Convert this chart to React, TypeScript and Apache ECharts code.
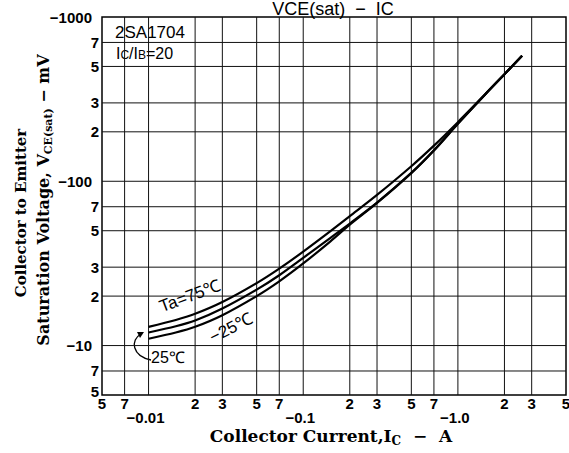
import React, { useEffect, useRef } from "react";
import * as echarts from "echarts";

// ---- axis ticks / labels ----
const xTickValues = [0.005, 0.007, 0.01, 0.02, 0.03, 0.05, 0.07, 0.1, 0.2, 0.3, 0.5, 0.7, 1, 2, 3, 5];
const xTickLabels = ["5", "7", "−0.01", "2", "3", "5", "7", "−0.1", "2", "3", "5", "7", "−1.0", "2", "3", "5"];
const yTickValues = [5, 7, 10, 20, 30, 50, 70, 100, 200, 300, 500, 700, 1000];
const yTickLabels = ["5", "7", "−10", "2", "3", "5", "7", "−100", "2", "3", "5", "7", "−1000"];

// ---- series (|IC| in A, |VCE(sat)| in mV) ----
const currentA = [0.01, 0.015, 0.02, 0.03, 0.05, 0.07, 0.1, 0.15, 0.2, 0.3, 0.5, 0.7, 1.0, 1.5, 2.0, 2.6];
const vce75 = [13.0, 14.3, 15.6, 18.4, 24.0, 29.4, 37.3, 49.7, 61.3, 82.6, 123.5, 164.8, 229, 338, 448, 581];
const vce25 = [12.0, 13.1, 14.2, 16.8, 21.9, 26.8, 34.2, 45.3, 55.3, 74.1, 112.6, 154.5, 224.8, 338, 448, 581];
const vceM25 = [11.0, 12.0, 13.0, 15.3, 20.0, 24.6, 31.6, 43.1, 54.4, 73.8, 112.1, 153.8, 223.7, 338, 448, 581];

const X_MIN = 0.005;
const X_MAX = 5;
const Y_MIN = 5;
const Y_MAX = 1000;

const SANS = "Liberation Sans, Arial, sans-serif";
const SERIF = "DejaVu Serif, serif";

export default function App() {
  const ref = useRef<HTMLDivElement>(null);

  useEffect(() => {
    if (!ref.current) return;
    const chart = echarts.init(ref.current, null, { renderer: "svg" });

    const mk = (x: number[], y: number[]) => x.map((v, i) => [v, y[i]]);

    const lineSeries = (name: string, ys: number[]) => ({
      type: "line",
      name,
      data: mk(currentA, ys),
      smooth: 0.3,
      showSymbol: false,
      symbol: "none",
      lineStyle: { color: "#000", width: 2.2 },
      z: 5,
    });

    const subRich = (size: number) => ({
      m: { fontFamily: SERIF, fontWeight: "bold", fontSize: size, fill: "#000", lineHeight: size + 5, verticalAlign: "middle" },
      s: { fontFamily: SERIF, fontWeight: "bold", fontSize: Math.round(size * 0.7), fill: "#000", lineHeight: Math.round(size * 0.7), verticalAlign: "bottom" },
    });

    const option: any = {
      animation: false,
      backgroundColor: "#fff",
      grid: {
        left: 102,
        right: 3,
        top: 17,
        bottom: 58,
        show: true,
        borderColor: "#000",
        borderWidth: 1.5,
        backgroundColor: "transparent",
      },
      xAxis: {
        type: "log",
        logBase: 10,
        min: X_MIN,
        max: X_MAX,
        axisLine: { show: false },
        axisTick: { show: false },
        axisLabel: { show: false },
        splitLine: { show: false },
      },
      yAxis: {
        type: "log",
        logBase: 10,
        min: Y_MIN,
        max: Y_MAX,
        axisLine: { show: false },
        axisTick: { show: false },
        axisLabel: { show: false },
        splitLine: { show: false },
      },
      series: [
        {
          type: "custom",
          clip: false,
          silent: true,
          z: 1,
          data: xTickValues.map((v) => [v, Y_MIN]),
          renderItem: (params: any, api: any) => {
            const v = api.value(0);
            const label = xTickLabels[params.dataIndex];
            const b = api.coord([v, Y_MIN]);
            const t = api.coord([v, Y_MAX]);
            const decade = label.startsWith("−");
            const children: any[] = [];
            if (v > X_MIN && v < X_MAX) {
              children.push({
                type: "line",
                shape: { x1: b[0], y1: b[1], x2: t[0], y2: t[1] },
                style: { stroke: "#111", lineWidth: 1 },
              });
            }
            children.push({
              type: "text",
              x: b[0] + (decade ? -3 : 0),
              y: b[1] + (decade ? 22 : 8),
              style: {
                text: label,
                textAlign: "center",
                textVerticalAlign: "middle",
                fontFamily: SANS,
                fontWeight: "bold",
                fontSize: 15,
                fill: "#000",
              },
            });
            return { type: "group", children };
          },
        },
        {
          type: "custom",
          clip: false,
          silent: true,
          z: 1,
          data: yTickValues.map((v) => [X_MIN, v]),
          renderItem: (params: any, api: any) => {
            const v = api.value(1);
            const label = yTickLabels[params.dataIndex];
            const l = api.coord([X_MIN, v]);
            const r = api.coord([X_MAX, v]);
            const decade = label.startsWith("−");
            const children: any[] = [];
            if (v > Y_MIN && v < Y_MAX) {
              children.push({
                type: "line",
                shape: { x1: l[0], y1: l[1], x2: r[0], y2: r[1] },
                style: { stroke: "#111", lineWidth: 1 },
              });
            }
            children.push({
              type: "text",
              x: l[0] - (decade ? 10 : 3),
              y: l[1] - (v === Y_MIN ? 4 : 0),
              style: {
                text: label,
                textAlign: "right",
                textVerticalAlign: "middle",
                fontFamily: SANS,
                fontWeight: "bold",
                fontSize: 15,
                fill: "#000",
              },
            });
            return { type: "group", children };
          },
        },
        lineSeries("75", vce75),
        lineSeries("25", vce25),
        lineSeries("-25", vceM25),
      ],
      graphic: [
        {
          type: "text",
          x: 333,
          y: 9,
          style: {
            text: "VCE(sat)  −  IC",
            textAlign: "center",
            textVerticalAlign: "middle",
            fontFamily: SANS,
            fontSize: 18,
            fill: "#000",
          },
        },
        {
          type: "text",
          x: 115,
          y: 32,
          style: {
            text: "2SA1704",
            textAlign: "left",
            textVerticalAlign: "middle",
            fontFamily: SANS,
            fontSize: 17,
            fill: "#000",
          },
        },
        {
          type: "text",
          x: 116,
          y: 53,
          style: {
            text: "I{s|C}/I{s|B}=20",
            textAlign: "left",
            textVerticalAlign: "middle",
            fontFamily: SANS,
            fontSize: 16,
            fill: "#000",
            rich: {
              s: { fontFamily: SANS, fontSize: 12, fill: "#000", verticalAlign: "bottom", lineHeight: 14 },
            },
          },
        },
        {
          type: "text",
          x: 190,
          y: 296,
          rotation: 0.36,
          style: {
            text: "Ta=75℃",
            textAlign: "center",
            textVerticalAlign: "middle",
            fontFamily: SANS,
            fontSize: 17,
            fill: "#000",
          },
        },
        {
          type: "text",
          x: 231,
          y: 328,
          rotation: 0.47,
          style: {
            text: "−25℃",
            textAlign: "center",
            textVerticalAlign: "middle",
            fontFamily: SANS,
            fontSize: 17,
            fill: "#000",
          },
        },
        {
          type: "text",
          x: 168,
          y: 357,
          style: {
            text: "25℃",
            textAlign: "center",
            textVerticalAlign: "middle",
            fontFamily: SANS,
            fontSize: 16,
            fill: "#000",
          },
        },
        {
          type: "bezierCurve",
          shape: { x1: 151, y1: 360, cpx1: 132, cpy1: 356, cpx2: 130, cpy2: 340, x2: 141, y2: 334 },
          style: { stroke: "#000", lineWidth: 1.3, fill: null },
        },
        {
          type: "polygon",
          shape: { points: [[144, 332], [137, 332], [140, 338]] },
          style: { fill: "#000" },
        },
        {
          type: "text",
          x: 21,
          y: 213,
          rotation: Math.PI / 2,
          style: {
            text: "Collector to Emitter",
            textAlign: "center",
            textVerticalAlign: "middle",
            fontFamily: SERIF,
            fontWeight: "bold",
            fontSize: 15,
            fill: "#000",
          },
        },
        {
          type: "text",
          x: 43,
          y: 200,
          rotation: Math.PI / 2,
          style: {
            text: "{m|Saturation Voltage, V}{s|CE(sat)}{m| − mV}",
            textAlign: "center",
            textVerticalAlign: "middle",
            rich: subRich(16),
          },
        },
        {
          type: "text",
          x: 331,
          y: 436,
          style: {
            text: "{m|Collector Current,I}{s|C}{m|  −  A}",
            textAlign: "center",
            textVerticalAlign: "middle",
            rich: subRich(17),
          },
        },
      ],
    };

    chart.setOption(option);
    return () => chart.dispose();
  }, []);

  return (
    <div
      ref={ref}
      style={{ position: "absolute", left: 0, top: 0, width: 569, height: 453, background: "#fff" }}
    />
  );
}
